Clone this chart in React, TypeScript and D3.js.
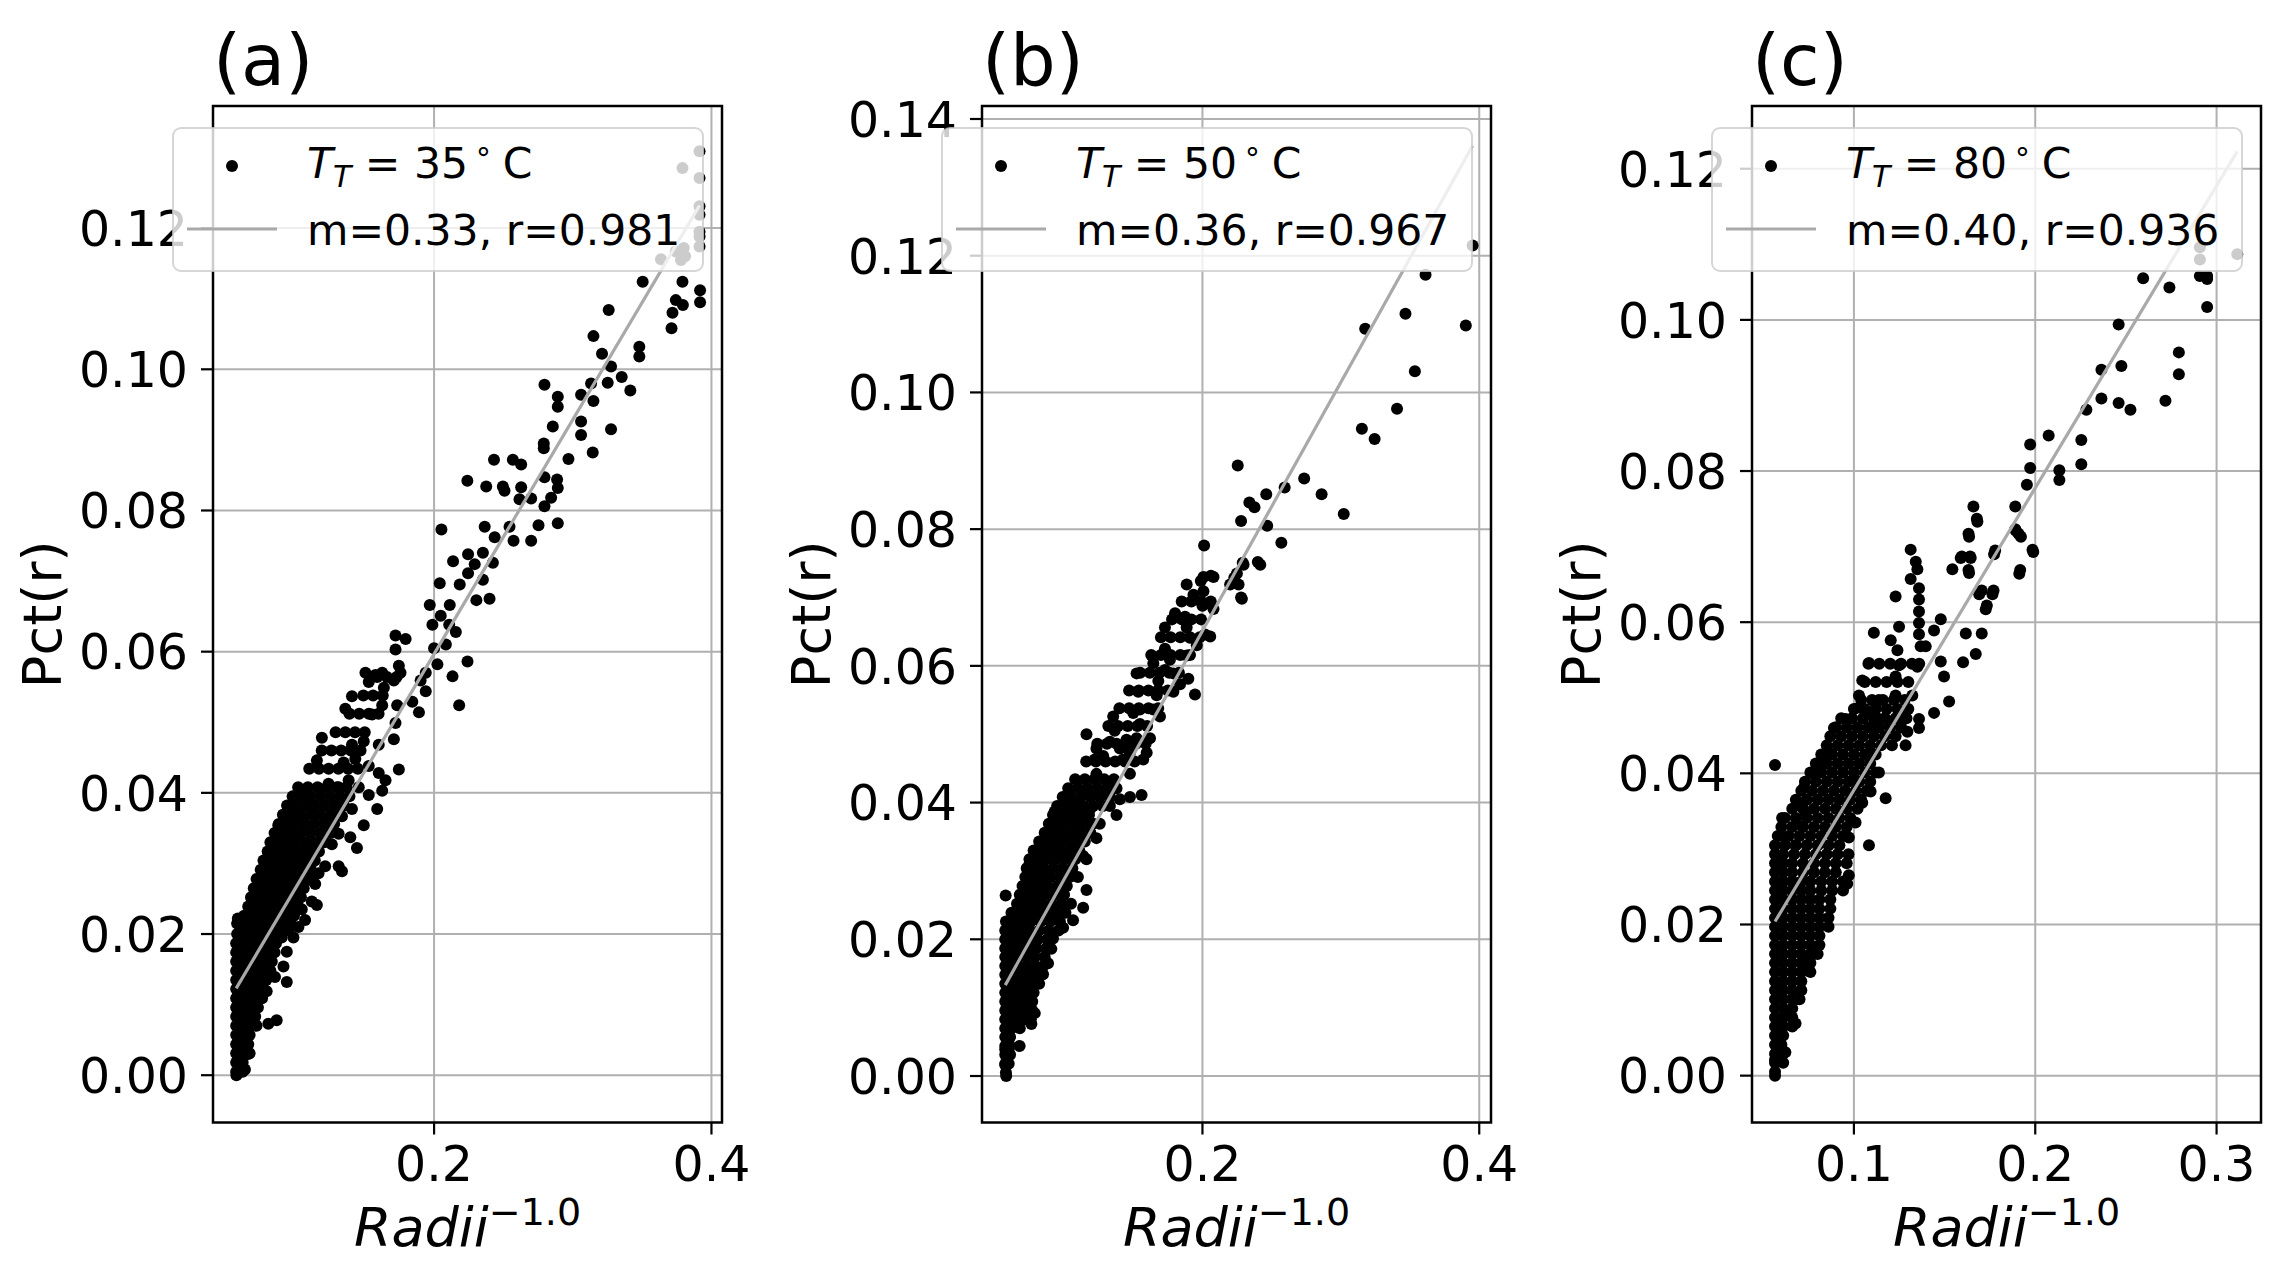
import React from "react";
import * as d3 from "d3";

// ---------- data ----------
const panelTitles = ["(a)", "(b)", "(c)"];
const temps = ["35", "50", "80"];
const fitLabels = ["m=0.33, r=0.981", "m=0.36, r=0.967", "m=0.40, r=0.936"];

const xDomains: [number, number][] = [[0.0406, 0.4076], [0.0407, 0.4085], [0.0438, 0.3245]];
const yDomains: [number, number][] = [[-0.0067, 0.1373], [-0.0068, 0.1419], [-0.0062, 0.1283]];
const xTicksA = [0.2, 0.4];
const xTicksB = [0.2, 0.4];
const xTicksC = [0.1, 0.2, 0.3];
const yTicksA = [0, 0.02, 0.04, 0.06, 0.08, 0.1, 0.12];
const yTicksB = [0, 0.02, 0.04, 0.06, 0.08, 0.1, 0.12, 0.14];
const yTicksC = [0, 0.02, 0.04, 0.06, 0.08, 0.1, 0.12];

// fitted lines (end points)
const lineA: [number, number][] = [[0.0573, 0.0123], [0.3914, 0.1232]];
const lineB: [number, number][] = [[0.0575, 0.0133], [0.3952, 0.1361]];
const lineC: [number, number][] = [[0.0565, 0.0204], [0.3114, 0.1223]];

// ---- panel (a) individual points [x, y]
const pointsA: [number, number][] = [
  [0.3914,0.1309],[0.3914,0.1271],[0.3914,0.1231],[0.3914,0.1219],[0.3914,0.1195],[0.3914,0.1188],[0.3914,0.1174],
  [0.3791,0.1285],[0.3800,0.1172],[0.3810,0.1160],[0.3780,0.1155],[0.3743,0.1167],[0.3636,0.1156],
  [0.3504,0.1124],[0.3791,0.1124],[0.3918,0.1112],[0.3918,0.1095],[0.3743,0.1098],[0.3794,0.1091],[0.3719,0.1080],
  [0.3712,0.1058],[0.3259,0.1084],[0.3149,0.1047],[0.3211,0.1022],[0.3480,0.1032],[0.3480,0.1018],[0.3276,0.1004],
  [0.3353,0.0989],[0.3252,0.0981],[0.3415,0.0970],[0.3132,0.0980],[0.3060,0.0964],[0.3149,0.0955],[0.2796,0.0978],
  [0.2892,0.0961],[0.2892,0.0947],[0.2856,0.0919],[0.3060,0.0926],[0.3060,0.0907],[0.3276,0.0915],[0.2791,0.0895],
  [0.2791,0.0888],[0.2969,0.0873],[0.3144,0.0882],[0.2432,0.0872],[0.2568,0.0872],[0.2628,0.0865],[0.2240,0.0842],
  [0.2376,0.0834],[0.2496,0.0834],[0.2628,0.0833],[0.2508,0.0828],[0.2796,0.0847],[0.2887,0.0844],[0.2892,0.0832],
  [0.2844,0.0818],[0.2796,0.0806],[0.2700,0.0817],[0.2616,0.0816],[0.2053,0.0773],[0.2365,0.0777],[0.2544,0.0777],
  [0.2753,0.0779],[0.2892,0.0782],[0.2437,0.0762],[0.2573,0.0757],[0.2700,0.0757],[0.2137,0.0728],[0.2245,0.0738],
  [0.2352,0.0740],[0.2293,0.0724],[0.2424,0.0726],[0.2245,0.0711],[0.2352,0.0702],[0.2041,0.0697],[0.2185,0.0695],
  [0.2305,0.0673],[0.2400,0.0675],[0.2113,0.0666],[0.1969,0.0666],
  [0.2048,0.0651],[0.1988,0.0638],[0.2109,0.0638],[0.2157,0.0628],[0.2085,0.0610],[0.2000,0.0605],[0.2241,0.0586],
  [0.2133,0.0565],[0.2181,0.0524],[0.2024,0.0582],[0.1940,0.0570],[0.1722,0.0623],[0.1795,0.0618],[0.1722,0.0603],
  [0.1746,0.0580],[0.1758,0.0570],[0.1710,0.0559],[0.1505,0.0570],[0.1577,0.0567],[0.1626,0.0570],[0.1638,0.0549],
  [0.1529,0.0557],[0.1408,0.0537],[0.1360,0.0519],[0.1553,0.0511],[0.1626,0.0524],[0.1734,0.0524],[0.1843,0.0529],
  [0.1891,0.0514],[0.1940,0.0544],[0.1903,0.0559],[0.1722,0.0499],[0.1710,0.0476],[0.1601,0.0468],[0.1493,0.0473],
  [0.1408,0.0468],[0.1191,0.0478],[0.1155,0.0446],[0.1348,0.0443],[0.1432,0.0448],[0.1529,0.0438],[0.1601,0.0428],
  [0.1650,0.0418],[0.1746,0.0433],[0.1626,0.0403],[0.1590,0.0377],[0.1529,0.0397],[0.1457,0.0408],[0.1384,0.0418],
  [0.1312,0.0408],[0.1239,0.0413],[0.1179,0.0405],[0.1046,0.0397],[0.1094,0.0382],[0.0974,0.0372],[0.0962,0.0357],
  [0.0877,0.0354],[0.1046,0.0362],[0.1143,0.0367],[0.1239,0.0357],[0.1336,0.0367],[0.1408,0.0377],[0.1493,0.0354],
  [0.1396,0.0337],[0.1444,0.0322],[0.1312,0.0342],[0.1263,0.0327],[0.1191,0.0332],[0.1094,0.0327],[0.0998,0.0332],
  [0.0902,0.0332],[0.0829,0.0322],[0.0805,0.0306],[0.0781,0.0291],[0.0877,0.0301],[0.0998,0.0306],[0.1118,0.0301],
  [0.1215,0.0296],[0.1312,0.0296],[0.1336,0.0289],[0.1167,0.0286],[0.1118,0.0276],[0.1143,0.0271],[0.1034,0.0278],
  [0.0950,0.0271],[0.0853,0.0276],[0.0732,0.0261],[0.0732,0.0241],[0.0829,0.0246],[0.0926,0.0251],[0.1022,0.0253],
  [0.1118,0.0246],[0.1155,0.0241],[0.1046,0.0235],[0.0974,0.0225],[0.0877,0.0230],[0.0781,0.0220],[0.0684,0.0210],
  [0.0660,0.0195],[0.0580,0.0215],[0.0585,0.0222],[0.1070,0.0220],[0.1022,0.0210],[0.0950,0.0205],[0.0901,0.0195],
  [0.0986,0.0195],[0.0841,0.0185],[0.0938,0.0175],[0.0914,0.0154],[0.0938,0.0132],[0.0805,0.0165],[0.0732,0.0175],
  [0.0853,0.0139],[0.0793,0.0119],[0.0805,0.0073],[0.0865,0.0078],[0.0708,0.0073],[0.0660,0.0084],[0.0612,0.0063],
  [0.0648,0.0053],[0.0660,0.0030],[0.0636,0.0008],[0.0575,0.0000],[0.0612,0.0018]
];
// ---- panel (a) dense rows: [y, x1, x2, ...]
const rowsA: number[][] = [
  [0.0005,0.0573,0.062],[0.0018,0.0573,0.062],[0.0031,0.0573,0.063,0.067],[0.0044,0.0573,0.062,0.066],
  [0.0057,0.0573,0.063,0.067],[0.0070,0.0573,0.062,0.068,0.072],[0.0083,0.0573,0.062,0.067,0.071],
  [0.0096,0.0573,0.063,0.068,0.073],[0.0109,0.0573,0.062,0.067,0.072,0.076],[0.0122,0.0573,0.062,0.067,0.072,0.077],
  [0.0135,0.0573,0.063,0.068,0.073,0.079],[0.0148,0.0573,0.062,0.067,0.072,0.077,0.082],
  [0.0161,0.0573,0.062,0.067,0.072,0.078,0.083],[0.0174,0.0573,0.063,0.068,0.073,0.079,0.085],
  [0.0187,0.0573,0.062,0.068,0.074,0.080,0.086],[0.0200,0.058,0.064,0.070,0.076,0.082,0.088],
  [0.0213,0.061,0.067,0.073,0.079,0.085,0.091,0.097],[0.0226,0.063,0.069,0.075,0.081,0.087,0.093,0.099],
  [0.0239,0.066,0.072,0.078,0.084,0.090,0.096,0.102],[0.0252,0.068,0.074,0.080,0.086,0.092,0.098,0.104],
  [0.0265,0.070,0.076,0.082,0.088,0.094,0.100,0.106],[0.0278,0.072,0.078,0.084,0.090,0.096,0.102,0.108],
  [0.0291,0.075,0.081,0.087,0.093,0.099,0.105,0.111],[0.0304,0.077,0.083,0.089,0.095,0.101,0.107,0.114],
  [0.0317,0.080,0.086,0.092,0.098,0.104,0.111,0.117],[0.0330,0.082,0.088,0.094,0.100,0.107,0.114,0.121],
  [0.0343,0.085,0.091,0.097,0.104,0.111,0.118,0.125],[0.0356,0.088,0.094,0.100,0.107,0.114,0.121,0.128],
  [0.0369,0.091,0.097,0.104,0.111,0.118,0.125,0.132],[0.0382,0.094,0.100,0.107,0.114,0.121,0.128,0.135],
  [0.0395,0.098,0.104,0.111,0.118,0.125,0.132,0.139],[0.0408,0.102,0.109,0.116,0.123,0.130,0.137],
  [0.0434,0.110,0.117,0.124,0.131,0.138,0.145],[0.0460,0.119,0.126,0.133,0.140,0.147],
  [0.0486,0.129,0.136,0.143,0.150],[0.0512,0.139,0.146,0.153,0.160],[0.0538,0.149,0.156,0.163],
  [0.0564,0.159,0.166,0.173]
];

// ---- panel (b)
const pointsB: [number, number][] = [
  [0.3952,0.1215],[0.3612,0.1172],[0.3467,0.1115],[0.3176,0.1093],[0.3903,0.1098],[0.3535,0.1031],[0.3406,0.0976],
  [0.3152,0.0947],[0.3244,0.0932],[0.2255,0.0893],[0.2735,0.0874],[0.2861,0.0851],[0.3021,0.0822],[0.2594,0.0861],
  [0.2461,0.0851],[0.2339,0.0839],[0.2376,0.0832],[0.2279,0.0812],[0.2468,0.0805],[0.2570,0.0780],[0.2012,0.0776],
  [0.2291,0.0751],[0.2400,0.0752],[0.2230,0.0729],[0.2279,0.0700],[0.2061,0.0732],[0.1988,0.0724],[0.2012,0.0690],
  [0.0582,0.0000],[0.0575,0.0016],[0.0679,0.0044],[0.0575,0.0039],[0.0764,0.0076],[0.0788,0.0092],[0.0848,0.0149],
  [0.0884,0.0165],[0.0908,0.0186],[0.0920,0.0201],[0.0993,0.0217],[0.1065,0.0228],[0.1138,0.0246],[0.1162,0.0272],
  [0.0578,0.0264],[0.0751,0.0311],[0.0800,0.0322],[0.0908,0.0332],[0.0932,0.0348],[0.0969,0.0358],[0.0932,0.0387],
  [0.1017,0.0400],[0.1005,0.0390],[0.1090,0.0395],[0.1150,0.0416],[0.1210,0.0411],[0.1186,0.0390],[0.1138,0.0379],
  [0.1065,0.0358],[0.1065,0.0337],[0.1138,0.0322],[0.1162,0.0317],[0.1234,0.0348],[0.1258,0.0369],[0.1331,0.0395],
  [0.1379,0.0382],[0.1403,0.0405],[0.1476,0.0408],[0.1560,0.0411],[0.1379,0.0421],[0.1331,0.0426],[0.1283,0.0416],
  [0.1234,0.0442],[0.1222,0.0463],[0.1234,0.0479],[0.1162,0.0500],[0.1283,0.0468],[0.1331,0.0489],[0.1366,0.0505],
  [0.1355,0.0526],[0.1403,0.0479],[0.1451,0.0492],[0.1476,0.0473],[0.1524,0.0494],[0.1572,0.0463],[0.1597,0.0473],
  [0.1621,0.0494],[0.1476,0.0442],[0.1427,0.0463],[0.1500,0.0531],[0.1548,0.0536],[0.1548,0.0515],[0.1645,0.0536],
  [0.1669,0.0557],[0.1693,0.0526],[0.1536,0.0562],[0.1524,0.0589],[0.1645,0.0604],[0.1681,0.0578],[0.1729,0.0594],
  [0.1729,0.0625],[0.1765,0.0609],[0.1790,0.0589],[0.1790,0.0562],[0.1838,0.0573],[0.1898,0.0581],[0.1946,0.0558],
  [0.1729,0.0656],[0.1802,0.0677],[0.1874,0.0672],[0.1886,0.0656],[0.1910,0.0641],[0.1886,0.0615],[0.1959,0.0630],
  [0.2019,0.0646],[0.2056,0.0643],[0.2080,0.0683],[0.2000,0.0688],[0.2007,0.0709],[0.1935,0.0704],[0.1886,0.0719],
  [0.2007,0.0730],[0.2080,0.0730],[0.2200,0.0719],[0.2261,0.0719],[0.2285,0.0698],[0.2249,0.0735],[0.2297,0.0748],
  [0.2418,0.0748]
];
const rowsB: number[][] = [
  [0.0005,0.058],[0.0018,0.0575,0.060],[0.0031,0.0575,0.061],[0.0044,0.0575,0.061],[0.0057,0.0575,0.061],
  [0.0070,0.0575,0.062,0.068],[0.0083,0.0575,0.062,0.067,0.072,0.076],[0.0096,0.0575,0.062,0.067,0.072,0.077],
  [0.0109,0.0575,0.062,0.067,0.072,0.077],[0.0122,0.0575,0.062,0.067,0.072,0.078],
  [0.0135,0.0575,0.062,0.067,0.072,0.077,0.082],[0.0148,0.0575,0.062,0.067,0.072,0.078,0.084],
  [0.0161,0.0575,0.062,0.067,0.073,0.079,0.085],[0.0174,0.0575,0.062,0.067,0.073,0.079,0.086],
  [0.0187,0.0575,0.062,0.068,0.074,0.080,0.087],[0.0200,0.0575,0.063,0.069,0.075,0.081,0.088],
  [0.0213,0.0575,0.063,0.069,0.075,0.082,0.089,0.096],[0.0226,0.058,0.064,0.070,0.076,0.083,0.090,0.097],
  [0.0239,0.062,0.068,0.074,0.080,0.087,0.094,0.101],[0.0252,0.066,0.072,0.078,0.084,0.091,0.098,0.105],
  [0.0265,0.068,0.074,0.080,0.086,0.093,0.100],[0.0278,0.070,0.076,0.082,0.088,0.095,0.102],
  [0.0291,0.072,0.078,0.084,0.090,0.097,0.104,0.110],[0.0304,0.073,0.079,0.085,0.092,0.099,0.106],
  [0.0317,0.075,0.081,0.087,0.094,0.101,0.108],[0.0330,0.078,0.084,0.090,0.097,0.104,0.111],
  [0.0343,0.082,0.088,0.094,0.101,0.108,0.115],[0.0356,0.086,0.092,0.098,0.105,0.112,0.119],
  [0.0369,0.089,0.095,0.101,0.108,0.115,0.121],[0.0382,0.092,0.098,0.104,0.111,0.118],
  [0.0395,0.095,0.101,0.107,0.114,0.121,0.128],[0.0408,0.099,0.105,0.112,0.119,0.126,0.133],
  [0.0421,0.103,0.110,0.117,0.124,0.131,0.137],[0.0434,0.108,0.115,0.122,0.129,0.136],
  [0.0460,0.116,0.123,0.130,0.137,0.144,0.151],[0.0486,0.124,0.131,0.138,0.145,0.152,0.159],
  [0.0512,0.132,0.139,0.146,0.153,0.160],[0.0538,0.140,0.147,0.154,0.161,0.168],
  [0.0564,0.147,0.154,0.161,0.168,0.175],[0.0590,0.155,0.162,0.169,0.176,0.183],
  [0.0616,0.163,0.170,0.177,0.184,0.191],[0.0642,0.170,0.177,0.184,0.191,0.198],
  [0.0668,0.178,0.185,0.192,0.199],[0.0694,0.185,0.192,0.199,0.206]
];

// ---- panel (c)
const pointsC: [number, number][] = [
  [0.3114,0.1087],[0.2908,0.1096],[0.2908,0.1080],[0.2908,0.1058],[0.2948,0.1058],[0.2948,0.1054],[0.2948,0.1017],
  [0.2595,0.1055],[0.2740,0.1043],[0.2460,0.0994],[0.2792,0.0957],[0.2792,0.0928],[0.2475,0.0939],[0.2365,0.0934],
  [0.2365,0.0896],[0.2460,0.0890],[0.2525,0.0881],[0.2718,0.0893],[0.2282,0.0881],[0.2074,0.0847],[0.1972,0.0835],
  [0.2254,0.0841],[0.2254,0.0809],[0.1972,0.0804],[0.2133,0.0801],[0.2133,0.0788],[0.1954,0.0782],[0.1890,0.0753],
  [0.1659,0.0753],[0.1678,0.0737],[0.1632,0.0717],[0.1890,0.0723],[0.1908,0.0717],[0.1985,0.0696],[0.1779,0.0695],
  [0.1641,0.0687],[0.1595,0.0687],[0.1632,0.0669],[0.1917,0.0669],[0.1705,0.0642],[0.1770,0.0642],[0.1733,0.0622],
  [0.1543,0.0670],[0.1589,0.0685],[0.1644,0.0685],[0.1635,0.0713],[0.1681,0.0733],[0.1635,0.0665],[0.1691,0.0637],
  [0.1764,0.0637],[0.1727,0.0617],[0.1617,0.0585],[0.1705,0.0585],[0.1672,0.0558],[0.1602,0.0547],[0.1773,0.0690],
  [0.1893,0.0721],[0.1921,0.0713],[0.1989,0.0693],[0.1912,0.0664],
  [0.0565,0.0000],[0.0565,0.0021],[0.0622,0.0031],[0.0678,0.0069],[0.0669,0.0100],[0.0641,0.0085],[0.0733,0.0143],
  [0.0761,0.0158],[0.0565,0.0411],[0.0604,0.0341],[0.0622,0.0315],[0.0678,0.0305],[0.0715,0.0330],[0.0733,0.0346],
  [0.0696,0.0361],[0.0724,0.0381],[0.0779,0.0399],[0.0825,0.0411],[0.0862,0.0427],[0.0890,0.0460],[0.0954,0.0472],
  [0.1028,0.0487],[0.1046,0.0523],[0.1083,0.0546],[0.1110,0.0586],[0.1230,0.0634],[0.1313,0.0696],[0.1341,0.0680],
  [0.1350,0.0670],[0.1313,0.0657],[0.1359,0.0645],[0.1359,0.0630],[0.1359,0.0614],[0.1359,0.0599],[0.1359,0.0584],
  [0.1368,0.0568],[0.1350,0.0541],[0.1396,0.0568],[0.1442,0.0589],[0.1479,0.0604],[0.1479,0.0548],[0.1497,0.0528],
  [0.1525,0.0495],[0.1442,0.0480],[0.1359,0.0472],[0.1359,0.0460],[0.1295,0.0455],[0.1285,0.0437],[0.1276,0.0472],
  [0.1249,0.0594],[0.1203,0.0576],[0.1240,0.0563],[0.1249,0.0543],[0.1230,0.0528],[0.1230,0.0503],[0.1322,0.0503],
  [0.1249,0.0482],[0.1175,0.0472],[0.1120,0.0462],[0.1064,0.0482],[0.1083,0.0422],[0.1138,0.0401],[0.1175,0.0367],
  [0.1083,0.0305],[0.1092,0.0376],[0.1046,0.0361],[0.1009,0.0335],[0.0972,0.0315],[0.0972,0.0265],[0.0963,0.0254],
  [0.1009,0.0391],[0.1120,0.0492],[0.1138,0.0472],[0.1028,0.0503],[0.1138,0.0497]
];
const rowsC: number[][] = [
  [0.0005,0.0565],[0.0017,0.0565,0.061],[0.0029,0.0565,0.061],[0.0041,0.0565,0.060],[0.0053,0.0565,0.061],
  [0.0065,0.0565,0.061,0.066],[0.0077,0.0565,0.061,0.066],[0.0089,0.0565,0.061,0.066],
  [0.0101,0.0565,0.061,0.066,0.070],[0.0113,0.0565,0.061,0.066,0.071],[0.0125,0.0565,0.061,0.066,0.071],
  [0.0137,0.0565,0.061,0.066,0.071,0.076],[0.0149,0.0565,0.061,0.066,0.071,0.076],
  [0.0161,0.0565,0.061,0.066,0.071,0.076,0.080],[0.0173,0.0565,0.061,0.066,0.071,0.076,0.081],
  [0.0185,0.0565,0.061,0.066,0.071,0.076,0.081],[0.0197,0.0565,0.061,0.066,0.071,0.076,0.081,0.086],
  [0.0209,0.0565,0.061,0.066,0.071,0.076,0.081,0.086],[0.0221,0.0565,0.061,0.066,0.071,0.076,0.081,0.087],
  [0.0233,0.0565,0.061,0.066,0.071,0.076,0.081,0.087],[0.0245,0.0565,0.061,0.066,0.071,0.076,0.082,0.088,0.094],
  [0.0257,0.0565,0.061,0.066,0.071,0.076,0.082,0.088,0.094],[0.0269,0.0565,0.061,0.066,0.072,0.078,0.084,0.090],
  [0.0281,0.0565,0.061,0.066,0.072,0.078,0.084,0.090,0.096],[0.0293,0.0565,0.061,0.067,0.073,0.079,0.085,0.091,0.097],
  [0.0305,0.0565,0.062,0.068,0.074,0.080,0.086,0.092],[0.0317,0.058,0.064,0.070,0.076,0.082,0.088,0.094],
  [0.0329,0.060,0.066,0.072,0.078,0.084,0.090,0.096],[0.0341,0.062,0.068,0.074,0.080,0.086,0.092,0.098],
  [0.0353,0.066,0.072,0.078,0.084,0.090,0.096,0.102],[0.0365,0.068,0.074,0.080,0.086,0.092,0.098,0.104],
  [0.0377,0.071,0.077,0.083,0.089,0.095,0.101,0.107],[0.0389,0.073,0.079,0.085,0.091,0.097,0.103,0.109],
  [0.0401,0.076,0.082,0.088,0.094,0.100,0.106,0.112],[0.0413,0.079,0.085,0.091,0.097,0.103,0.109],
  [0.0425,0.082,0.088,0.094,0.100,0.106,0.112],[0.0437,0.085,0.091,0.097,0.103,0.109,0.115,0.121],
  [0.0449,0.087,0.093,0.099,0.105,0.111,0.117,0.123],[0.0461,0.090,0.096,0.102,0.108,0.114,0.120,0.126],
  [0.0473,0.093,0.099,0.105,0.111,0.117,0.123,0.129],[0.0485,0.100,0.106,0.112,0.118,0.124,0.130],
  [0.0497,0.104,0.110,0.116,0.122,0.128],[0.0521,0.106,0.112,0.118,0.124,0.130],
  [0.0545,0.108,0.114,0.120,0.126,0.132,0.136]
];

const allPoints = [pointsA, pointsB, pointsC];
const allRows = [rowsA, rowsB, rowsC];
const allLines = [lineA, lineB, lineC];
const allXTicks = [xTicksA, xTicksB, xTicksC];
const allYTicks = [yTicksA, yTicksB, yTicksC];

// ---------- layout ----------
const W = 2278;
const H = 1273;
const PANEL_LEFTS = [213, 982, 1752];
const PANEL_W = 509;
const TOP = 106;
const BOTTOM = 1122.5;
const FONT = "'DejaVu Sans', 'Liberation Sans', sans-serif";
const TICK_FS = 49;
const LABEL_FS = 54;
const LEGEND_FS = 42.5;
const TITLE_FS = 72;
const DOT_R = 6;

function Panel({ idx }: { idx: number }) {
  const left = PANEL_LEFTS[idx];
  const right = left + PANEL_W;
  const x = d3.scaleLinear().domain(xDomains[idx]).range([left, right]);
  const y = d3.scaleLinear().domain(yDomains[idx]).range([BOTTOM, TOP]);
  const rowPts: [number, number][] = allRows[idx].flatMap(([yy, ...xs]) => xs.map((xx) => [xx, yy] as [number, number]));
  const pts = [...rowPts, ...allPoints[idx]];
  const lineGen = d3.line<[number, number]>().x((d) => x(d[0])).y((d) => y(d[1]));
  const fx = d3.format(".1f");
  const fy = d3.format(".2f");
  const legW = 530;
  const legR = right - 19;
  const bx = legR - legW;
  const cx = (left + right) / 2;
  const cy = (TOP + BOTTOM) / 2;
  return (
    <g>
      {/* grid */}
      {allXTicks[idx].map((t) => (
        <line key={"gx" + t} x1={x(t)} x2={x(t)} y1={TOP} y2={BOTTOM} stroke="#b0b0b0" strokeWidth={2} />
      ))}
      {allYTicks[idx].map((t) => (
        <line key={"gy" + t} x1={left} x2={right} y1={y(t)} y2={y(t)} stroke="#b0b0b0" strokeWidth={2} />
      ))}
      {/* scatter */}
      {pts.map((p, i) => (
        <circle key={i} cx={x(p[0])} cy={y(p[1])} r={DOT_R} fill="#000" />
      ))}
      {/* fit line */}
      <path d={lineGen(allLines[idx]) || ""} stroke="#a9a9a9" strokeWidth={3.2} fill="none" />
      {/* spines */}
      <rect x={left} y={TOP} width={PANEL_W} height={BOTTOM - TOP} fill="none" stroke="#000" strokeWidth={2.5} />
      {/* ticks */}
      {allXTicks[idx].map((t) => (
        <g key={"tx" + t}>
          <line x1={x(t)} x2={x(t)} y1={BOTTOM} y2={BOTTOM + 12} stroke="#000" strokeWidth={2.2} />
          <text x={x(t)} y={1181} textAnchor="middle" fontSize={TICK_FS} fontFamily={FONT} fill="#000">
            {fx(t)}
          </text>
        </g>
      ))}
      {allYTicks[idx].map((t) => (
        <g key={"ty" + t}>
          <line x1={left - 12} x2={left} y1={y(t)} y2={y(t)} stroke="#000" strokeWidth={2.2} />
          <text x={left - 25} y={y(t) + 17.8} textAnchor="end" fontSize={TICK_FS} fontFamily={FONT} fill="#000">
            {fy(t)}
          </text>
        </g>
      ))}
      {/* axis labels */}
      <text x={cx} y={1246} textAnchor="middle" fontSize={LABEL_FS} fontFamily={FONT} fill="#000">
        <tspan fontStyle="italic">Radii</tspan>
        <tspan fontSize={38} dy={-21}>−1.0</tspan>
      </text>
      <text
        transform={`translate(${left - 152},${cy}) rotate(-90)`}
        textAnchor="middle"
        fontSize={LABEL_FS}
        fontFamily={FONT}
        fill="#000"
      >
        Pct(r)
      </text>
      {/* title */}
      <text x={left} y={85} fontSize={TITLE_FS} fontFamily={FONT} fill="#000">
        {panelTitles[idx]}
      </text>
      {/* legend */}
      <rect
        x={bx}
        y={128}
        width={legW}
        height={143}
        rx={8}
        ry={8}
        fill="#fff"
        fillOpacity={0.8}
        stroke="#cccccc"
        strokeOpacity={0.8}
        strokeWidth={2}
      />
      <circle cx={bx + 59} cy={166} r={DOT_R} fill="#000" />
      <line x1={bx + 14} x2={bx + 104} y1={229} y2={229} stroke="#a9a9a9" strokeWidth={3.2} />
      <text x={bx + 134} y={178} fontSize={LEGEND_FS} fontFamily={FONT} fill="#000">
        <tspan fontStyle="italic">T</tspan>
        <tspan fontStyle="italic" fontSize={30} dy={9}>T</tspan>
        <tspan dy={-9}>{" = " + temps[idx]}</tspan>
        <tspan fontSize={30} dx={6} dy={-17}>∘</tspan>
        <tspan dx={10} dy={17}>C</tspan>
      </text>
      <text x={bx + 134} y={245} fontSize={LEGEND_FS} fontFamily={FONT} fill="#000">
        {fitLabels[idx]}
      </text>
    </g>
  );
}

export default function App() {
  return (
    <>
      <style>{`html,body{margin:0;padding:0;overflow:hidden;background:#fff}`}</style>
      <svg
        width={W}
        height={H}
        viewBox={`0 0 ${W} ${H}`}
        style={{ position: "absolute", left: 0, top: 0, background: "#fff" }}
      >
        <rect x={0} y={0} width={W} height={H} fill="#fff" />
        {[0, 1, 2].map((i) => (
          <Panel key={i} idx={i} />
        ))}
      </svg>
    </>
  );
}
